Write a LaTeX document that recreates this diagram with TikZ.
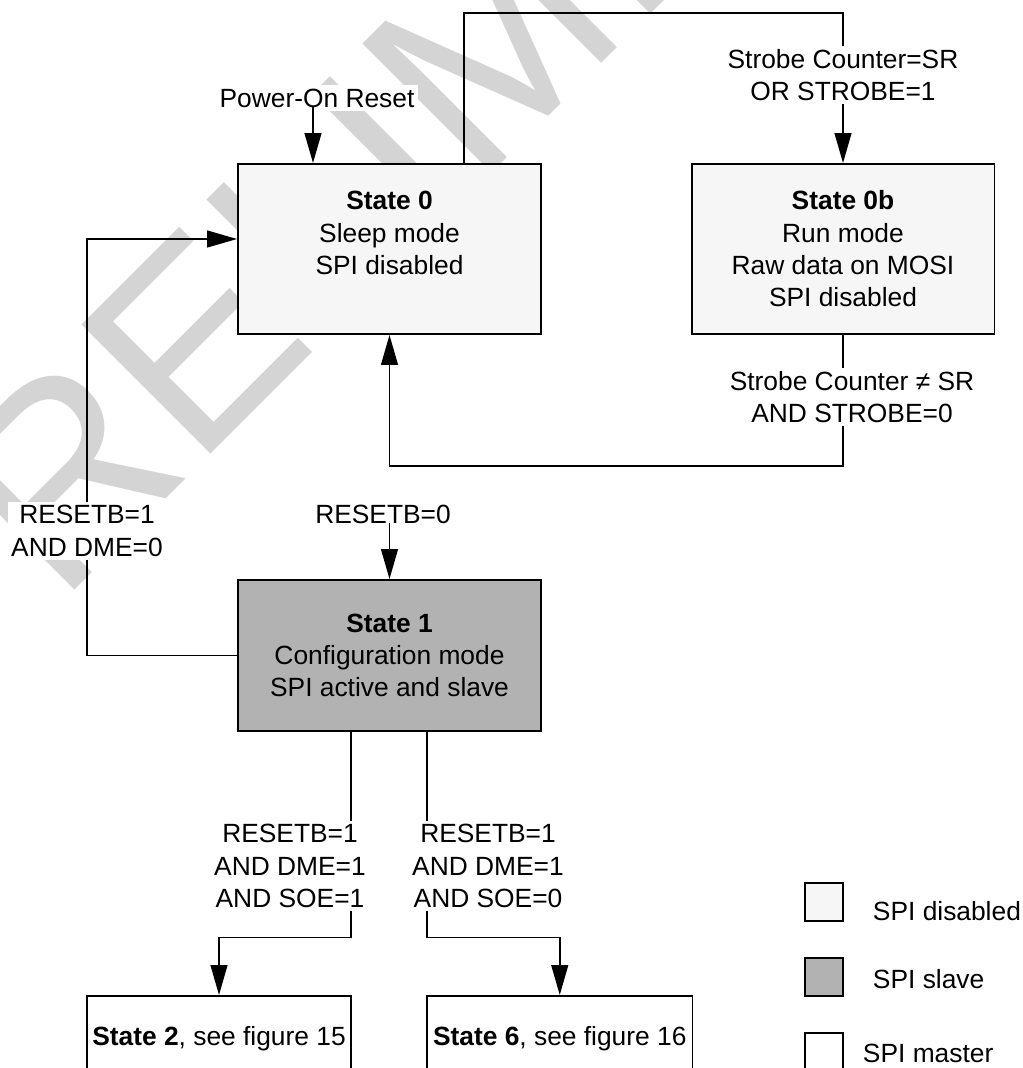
\documentclass[tikz,border=0pt]{standalone}
\usepackage{fontspec}
\setmainfont{Liberation Sans}
\usetikzlibrary{arrows.meta}
\definecolor{wmgray}{gray}{0.83}
\definecolor{offfill}{gray}{0.965}
\definecolor{slavefill}{gray}{0.70}

\begin{document}
\begin{tikzpicture}[x=0.02cm, y=-0.02cm, line width=1.1pt,
    font=\fontsize{15}{18.4}\selectfont,
    stbox/.style={draw, fill=white, align=center, inner sep=2pt,
        minimum width=6.06cm, minimum height=3.4cm},
    lbl/.style={fill=white, align=center, inner sep=2pt},
    arr/.style={-{Triangle[length=17pt,width=9.5pt]}},
    keybox/.style={draw, fill=white, minimum size=0.76cm, inner sep=0pt},
    keytext/.style={anchor=base west, inner sep=0pt},
    wm/.style={anchor=base west, rotate=45, inner sep=0pt, text=wmgray,
        font=\fontsize{151}{151}\selectfont}]
    \useasboundingbox (0,0) rectangle (1022,1068);
    \clip (0,0) rectangle (1022,1068);

    % watermark
    \node[wm] (wmk) at (-66,731) {PRELIMINARY};

    % states
    \node[stbox, fill=offfill] (s0) at (389.5,249) {\textbf{State 0}\\Sleep mode\\SPI disabled\\\mbox{}};
    \node[stbox, fill=offfill] (s0b) at (843,249) {\textbf{State 0b}\\Run mode\\Raw data on MOSI\\SPI disabled};
    \node[stbox, fill=slavefill, minimum height=3.02cm] (s1) at (389.5,655.5) {\textbf{State 1}\\Configuration mode\\SPI active and slave};
    \node[stbox, minimum width=5.28cm, minimum height=1.72cm] (s2) at (219,1039) {\textbf{State 2}, see figure 15};
    \node[stbox, minimum width=5.31cm, minimum height=1.72cm] (s6) at (559.75,1039) {\textbf{State 6}, see figure 16};

    % corners of the transitions
    \coordinate (tl) at (464,13);
    \coordinate (tr) at (843,13);
    \coordinate (br) at (843,466);
    \coordinate (ll) at (87,239);
    \coordinate (dl) at (351,937.5);
    \coordinate (dr) at (427,937.5);
    \coordinate (pin) at (313,107);

    \draw[arr] (s0.north -| tl) -- (tl) -- (tr) -- (s0b.north);
    \draw[arr] (s0b.south) -- (br) -| (s0.south);
    \draw[arr] (s1.west) -| (ll) -- (ll -| s0.west);
    \draw[arr] (s1.south -| dl) -- (dl) -| (s2.north);
    \draw[arr] (s1.south -| dr) -- (dr) -| (s6.north);

    % conditions
    \node[lbl] (c0b) at (843,75) {Strobe Counter=SR\\OR STROBE=1};
    \node[lbl] (c0) at (852,397) {Strobe Counter ≠ SR\\AND STROBE=0};
    \node[lbl] (c1) at (87,531) {RESETB=1\\AND DME=0};
    \node[lbl] (c2) at (290,866) {RESETB=1\\AND DME=1\\AND SOE=1};
    \node[lbl] (c6) at (488,866) {RESETB=1\\AND DME=1\\AND SOE=0};
    \node[lbl] (por) at (317,98) {Power-On Reset};
    \node[lbl] (rst) at (383,514) {RESETB=0};

    \draw[arr] (pin) -- (pin |- s0.north);
    \draw[arr] (rst.base -| s1.north) -- (s1.north);

    % legend
    \node[keybox, fill=offfill] (k0) at (824,902) {};
    \node[keybox, fill=slavefill] (k1) at (824,977) {};
    \node[keybox] (k2) at (824,1052) {};
    \node[keytext] (t0) at (872,920) {SPI disabled};
    \node[keytext] (t1) at (872,988) {SPI slave};
    \node[keytext] (t2) at (862,1062) {SPI master};
\end{tikzpicture}
\end{document}
